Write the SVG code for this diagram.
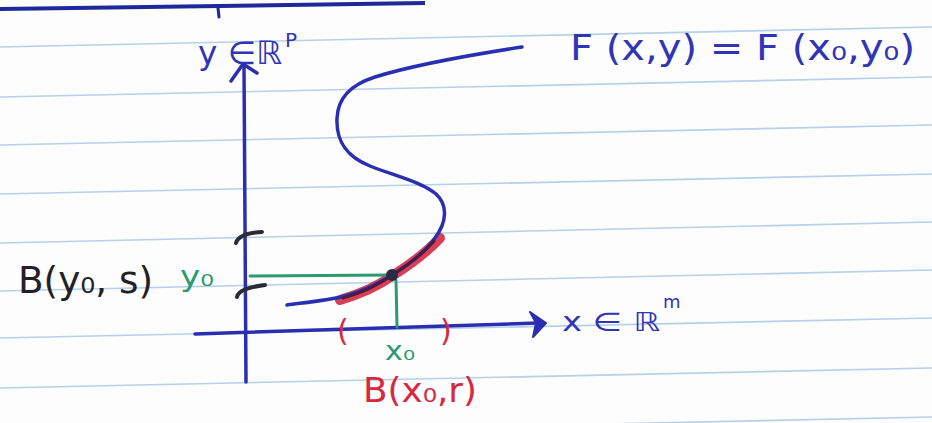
<svg xmlns="http://www.w3.org/2000/svg" width="932" height="423" viewBox="0 0 932 423">
<style>
.rule{stroke:#b6d0e8;stroke-width:1.6;fill:none}
.ink{stroke:#2a2fb2;stroke-width:3.5;fill:none;stroke-linecap:round;stroke-linejoin:round}
.grn{stroke:#2b9a70;stroke-width:3;fill:none;stroke-linecap:round}
.blk{stroke:#2b2b33;stroke-width:4;fill:none;stroke-linecap:round}
.t{font-family:"DejaVu Sans","Liberation Sans",sans-serif}
.tb{fill:#2f35b5}
.tg{fill:#2b9a70}
.tr{fill:#d8283f}
.tk{fill:#222226}
</style>
<rect width="932" height="423" fill="#fdfdfd"/>
<g id="paper">
<line class="rule" x1="0" y1="47" x2="932" y2="27"/>
<line class="rule" x1="0" y1="97" x2="932" y2="77"/>
<line class="rule" x1="0" y1="145" x2="932" y2="125"/>
<line class="rule" x1="0" y1="194" x2="932" y2="174"/>
<line class="rule" x1="0" y1="243" x2="932" y2="222"/>
<line class="rule" x1="0" y1="291" x2="932" y2="270"/>
<line class="rule" x1="0" y1="338" x2="932" y2="318"/>
<line class="rule" x1="0" y1="388" x2="932" y2="368"/>
<line class="rule" x1="0" y1="437" x2="932" y2="417"/>
<path d="M0,9 L425,3" stroke="#1f2a9a" stroke-width="4" fill="none"/>
<path d="M218,8 L219,17" stroke="#1f2a9a" stroke-width="3" fill="none" stroke-linecap="round"/>
</g>
<g id="axes">
<path class="ink" d="M244,65 L246,382"/>
<path class="ink" d="M231,81 L243,64 L257,73"/>
<path class="ink" d="M195,334 L538,323"/>
<path d="M530,312 L546,323 L533,337 L536,323 Z" fill="#2a2fb2" stroke="#2a2fb2" stroke-width="2" stroke-linejoin="round"/>
</g>
<g id="curve">
<path d="M340,300 C360,294 378,286 392,276 C408,266 425,254 440,238" stroke="#d42a45" stroke-width="10" fill="none" stroke-linecap="round" opacity="0.9"/>
<path class="ink" d="M287,305 C310,302 330,300 345,296 C365,291 380,282 392,275 C410,264 425,252 435,238 C447,222 448,205 436,194 C422,182 395,176 370,166 C345,156 336,140 337,118 C338,98 350,85 375,77 C410,66 470,55 522,47"/>
<path d="M343,298 C365,292 380,284 392,275 C408,265 424,253 434,241" stroke="#4a1c3c" stroke-width="3" fill="none" stroke-linecap="round"/>
</g>
<g id="projections">
<path class="grn" d="M250,276 L390,275"/>
<path class="grn" d="M396,280 L397,327"/>
<circle cx="392" cy="275" r="6" fill="#2a2a44"/>
</g>
<g id="brackets">
<path class="blk" d="M236,243 C238,236 246,233 262,232"/>
<path class="blk" d="M237,297 C238,290 250,287 265,285"/>
<text class="t tr" x="337" y="341" font-size="30">(</text>
<text class="t tr" x="440" y="341" font-size="30">)</text>
</g>
<g id="labels">
<text class="t tb" x="198" y="64" font-size="32" textLength="84" lengthAdjust="spacingAndGlyphs">y ∈ℝ</text>
<text class="t tb" x="285" y="47" font-size="20">P</text>
<text class="t tb" x="570" y="60" font-size="36" textLength="345" lengthAdjust="spacingAndGlyphs">F (x,y) = F (x₀,y₀)</text>
<text class="t tb" x="562" y="331" font-size="26" textLength="98" lengthAdjust="spacingAndGlyphs">x ∈ ℝ</text>
<text class="t tb" x="663" y="308" font-size="18">m</text>
<text class="t tk" x="18" y="293" font-size="38" textLength="135" lengthAdjust="spacingAndGlyphs">B(y₀, s)</text>
<text class="t tg" x="180" y="286" font-size="28" textLength="34" lengthAdjust="spacingAndGlyphs">y₀</text>
<text class="t tg" x="385" y="360" font-size="26" textLength="30" lengthAdjust="spacingAndGlyphs">x₀</text>
<text class="t tr" x="363" y="402" font-size="34" textLength="114" lengthAdjust="spacingAndGlyphs">B(x₀,r)</text>
</g>
</svg>
